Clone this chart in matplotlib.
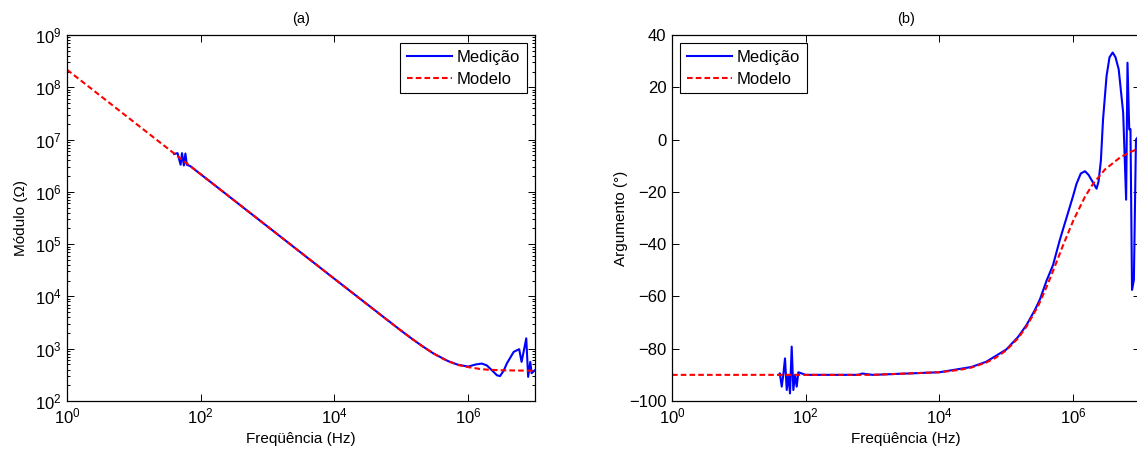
import matplotlib
matplotlib.use("Agg")
import matplotlib.pyplot as plt
from matplotlib.ticker import FixedLocator, NullLocator, LogLocator, FixedFormatter

# ---------------- data ----------------
# Model curve (left: |Z| in Ohm, right: phase in degrees)
f_model = [1, 10, 100, 1e3, 1e4, 2e4, 3e4, 5e4, 7e4, 1e5, 1.5e5, 2e5, 3e5, 4e5, 5e5, 7e5,
           1e6, 1.5e6, 2e6, 3e6, 5e6, 7e6, 1e7]
mod_model = [2.17e8, 2.17e7, 2.17e6, 2.17e5, 2.17e4, 10860, 7240, 4360, 3120, 2200, 1496,
             1150, 817, 662, 577, 490, 445, 410, 396, 388, 383, 381, 380]
arg_model = [-90, -90, -90, -90, -89.0, -88.1, -87.2, -85.3, -83.4, -80.6, -76.0, -71.6,
             -63.6, -56.4, -50.3, -40.7, -31.1, -21.9, -16.8, -11.4, -6.9, -4.9, -3.2]

# Measurement, magnitude
f_med_mod = [40, 45, 50, 52.5, 56, 59, 62, 70, 100, 1e3, 1e4, 1e5, 1.5e5, 2e5, 3e5, 5e5,
             7e5, 1e6, 1.3e6, 1.6e6, 1.9e6, 2.3e6, 2.7e6, 3e6, 3.4e6, 3.8e6, 4.8e6, 5.8e6,
             6.3e6, 6.9e6, 7.4e6, 7.9e6, 8.5e6, 8.9e6, 1e7]
mod_med = [5.3e6, 5.5e6, 3.3e6, 5.5e6, 3.2e6, 5.4e6, 3.3e6, 3.1e6, 2.17e6, 2.17e5, 2.17e4,
           2200, 1496, 1150, 817, 580, 495, 455, 500, 520, 480, 380, 310, 300, 380, 525,
           870, 980, 560, 1000, 1580, 290, 560, 340, 390]

# Measurement, phase
f_med_arg = [40, 41, 43.8, 46.2, 49, 52, 55, 58.2, 61.7, 65.3, 69.2, 73.3, 77.6, 100,
             600, 700, 1e3, 1e4, 3e4, 5e4, 1e5, 1.5e5, 2e5, 2.7e5, 3.2e5, 4e5, 5e5, 6.3e5,
             8.5e5, 1e6, 1.12e6, 1.3e6, 1.5e6, 1.7e6, 2e6, 2.24e6, 2.4e6, 2.6e6, 2.8e6,
             3.16e6, 3.5e6, 3.9e6, 4.3e6, 4.8e6, 5.6e6, 6.2e6, 6.5e6, 6.9e6, 7.2e6, 7.6e6,
             8.1e6, 8.7e6, 1e7]
arg_med = [-90, -89.4, -94.5, -90, -83.7, -95.8, -90, -97.1, -79.2, -95.8, -90, -94.5,
           -89, -90, -90, -89.5, -90, -89.0, -87.0, -85.0, -80.3, -75.5, -71.0, -65.0,
           -61.0, -54.0, -48.0, -38.5, -27.5, -21.5, -17.0, -13.0, -12.1, -13.5, -16.6,
           -18.8, -16.0, -8.0, 7.7, 24.3, 31.5, 33.3, 31.5, 26.9, 10.3, -23.0, 29.4, 3.9,
           4.0, -57.5, -53.6, 0.0, 2.0]

xticks = [1, 1e2, 1e4, 1e6]
xticklabels = [r'$\mathregular{10^{0}}$', r'$\mathregular{10^{2}}$',
               r'$\mathregular{10^{4}}$', r'$\mathregular{10^{6}}$']
yticks_mod = [1e2, 1e3, 1e4, 1e5, 1e6, 1e7, 1e8, 1e9]
yticklabels_mod = [r'$\mathregular{10^{%d}}$' % k for k in range(2, 10)]
yticks_arg = [-100, -80, -60, -40, -20, 0, 20, 40]

labels = ['Medição', 'Modelo']

# ---------------- style ----------------
plt.rcParams['font.family'] = ['Liberation Sans', 'DejaVu Sans']
plt.rcParams['font.size'] = 11
plt.rcParams['mathtext.fontset'] = 'custom'
plt.rcParams['mathtext.rm'] = 'Liberation Sans'
plt.rcParams['mathtext.it'] = 'Liberation Sans:italic'
plt.rcParams['mathtext.default'] = 'regular'

W, H = 1137, 453
fig = plt.figure(figsize=(W / 100, H / 100), dpi=100)

ax_b, ax_w, ax_h = 1 - 401 / H, 468 / W, 366 / H
ax1 = fig.add_axes([67 / W, ax_b, ax_w, ax_h])
ax2 = fig.add_axes([672 / W, ax_b, ax_w, ax_h])

lw = 1.5
dash = (2.7, 1.5)

# Left plot
ax1.loglog(f_med_mod, mod_med, color='#0000ff', lw=lw, label=labels[0])
ax1.loglog(f_model, mod_model, color='#ff0000', lw=lw, linestyle=(0, dash), label=labels[1])
ax1.set_xlim(1, 1e7)
ax1.set_ylim(1e2, 1e9)
ax1.xaxis.set_major_locator(FixedLocator(xticks))
ax1.xaxis.set_major_formatter(FixedFormatter(xticklabels))
ax1.xaxis.set_minor_locator(NullLocator())
ax1.yaxis.set_major_locator(FixedLocator(yticks_mod))
ax1.yaxis.set_major_formatter(FixedFormatter(yticklabels_mod))
ax1.yaxis.set_minor_locator(LogLocator(base=10, subs=range(2, 10), numticks=20))
ax1.set_title('(a)', fontsize=10.5, pad=9)
ax1.set_xlabel('Freqüência (Hz)', labelpad=4)
ax1.set_ylabel('Módulo (Ω)', labelpad=5)

# Right plot
ax2.semilogx(f_med_arg, arg_med, color='#0000ff', lw=lw, label=labels[0])
ax2.semilogx(f_model, arg_model, color='#ff0000', lw=lw, linestyle=(0, dash), label=labels[1])
ax2.set_xlim(1, 1e7)
ax2.set_ylim(-100, 40)
ax2.xaxis.set_major_locator(FixedLocator(xticks))
ax2.xaxis.set_major_formatter(FixedFormatter(xticklabels))
ax2.xaxis.set_minor_locator(NullLocator())
ax2.yaxis.set_major_locator(FixedLocator(yticks_arg))
ax2.yaxis.set_minor_locator(NullLocator())
ax2.set_title('(b)', fontsize=10.5, pad=9)
ax2.set_xlabel('Freqüência (Hz)', labelpad=4)
ax2.set_ylabel('Argumento (°)', labelpad=1)

for ax, loc in ((ax1, 'upper right'), (ax2, 'upper left')):
    for s in ax.spines.values():
        s.set_linewidth(0.9)
    ax.tick_params(which='both', direction='in', top=True, right=True, width=0.7)
    ax.tick_params(which='major', length=5, pad=4, labelsize=12)
    ax.tick_params(which='minor', length=2.5)
    leg = ax.legend(loc=loc, fancybox=False, framealpha=1, edgecolor='black',
                    handlelength=2.7, handletextpad=0.3, borderpad=0.4,
                    labelspacing=0.4, borderaxespad=0.5, fontsize=12)
    leg.get_frame().set_linewidth(0.8)

fig.savefig('out.png', dpi=100)
